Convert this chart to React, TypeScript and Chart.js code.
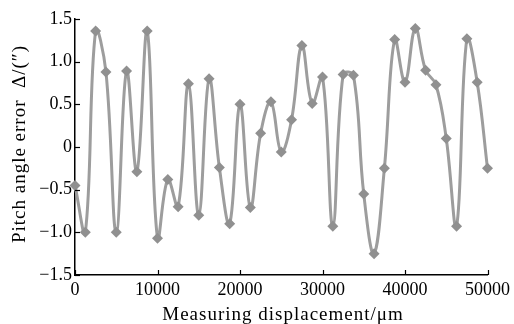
import React, { useEffect, useRef } from "react";
import { Chart, registerables } from "chart.js";

Chart.register(...registerables);

const displacement = [
  0, 1250, 2500, 3750, 5000, 6250, 7500, 8750, 10000, 11250,
  12500, 13750, 15000, 16250, 17500, 18750, 20000, 21250, 22500, 23750,
  25000, 26250, 27500, 28750, 30000, 31250, 32500, 33750, 35000, 36250,
  37500, 38750, 40000, 41250, 42500, 43750, 45000, 46250, 47500, 48750, 50000,
];
const pitchError = [
  -0.45, -1.0, 1.36, 0.88, -1.0, 0.89, -0.29, 1.36, -1.07, -0.38,
  -0.7, 0.74, -0.8, 0.8, -0.24, -0.9, 0.5, -0.71, 0.16, 0.53,
  -0.06, 0.32, 1.19, 0.51, 0.82, -0.93, 0.85, 0.84, -0.55, -1.25,
  -0.25, 1.26, 0.76, 1.39, 0.9, 0.73, 0.1, -0.93, 1.27, 0.76, -0.25,
];
const yTicks = [-1.5, -1.0, -0.5, 0, 0.5, 1.0, 1.5];
const xTicks = [0, 10000, 20000, 30000, 40000, 50000];
const xTitle = "Measuring displacement/μm";
const yTitle = "Pitch angle error  \u0394/(\u2033)";

const FONT = "'Liberation Serif', 'Times New Roman', serif";

const axisDecor = {
  id: "axisDecor",
  afterDraw(chart: any) {
    const { ctx, chartArea, scales } = chart;
    ctx.save();
    ctx.strokeStyle = "#000";
    ctx.lineWidth = 1.2;
    const len = 5;
    for (const v of xTicks) {
      const px = Math.round(scales.x.getPixelForValue(v)) + 0.5;
      ctx.beginPath();
      ctx.moveTo(px, chartArea.bottom);
      ctx.lineTo(px, chartArea.bottom - len);
      ctx.stroke();
    }
    for (const v of yTicks) {
      const py = Math.round(scales.y.getPixelForValue(v)) + 0.5;
      ctx.beginPath();
      ctx.moveTo(chartArea.left, py);
      ctx.lineTo(chartArea.left + len, py);
      ctx.stroke();
    }
    // axis titles
    ctx.fillStyle = "#000";
    ctx.font = `19px ${FONT}`;
    try {
      (ctx as any).letterSpacing = "1px";
    } catch (e) {}
    ctx.textAlign = "center";
    ctx.textBaseline = "alphabetic";
    ctx.fillText(xTitle, 283, 320);
    ctx.translate(25, 144);
    ctx.rotate(-Math.PI / 2);
    ctx.fillText(yTitle, 0, 0);
    ctx.restore();
  },
};

export default function App() {
  const ref = useRef<HTMLCanvasElement | null>(null);
  useEffect(() => {
    document.body.style.margin = "0";
    const canvas = ref.current;
    if (!canvas) return;
    const chart = new Chart(canvas, {
      type: "line",
      data: {
        datasets: [
          {
            data: displacement.map((x, i) => ({ x, y: pitchError[i] })),
            borderColor: "#9d9d9d",
            borderWidth: 3,
            backgroundColor: "#909090",
            pointBackgroundColor: "#909090",
            pointBorderColor: "#909090",
            pointStyle: "rectRot",
            pointRadius: 5.5,
            pointBorderWidth: 0,
            tension: 0.4,
            clip: false as any,
          },
        ],
      },
      options: {
        responsive: false,
        animation: false,
        layout: { padding: { top: 19, right: 24, left: 0, bottom: 0 } },
        plugins: { legend: { display: false }, tooltip: { enabled: false } },
        scales: {
          x: {
            type: "linear",
            min: 0,
            max: 50000,
            afterFit: (s: any) => {
              s.height = 49;
            },
            afterBuildTicks: (s: any) => {
              s.ticks = xTicks.map((v) => ({ value: v }));
            },
            grid: { display: false, drawTicks: false },
            border: { display: true, color: "#000", width: 1.5 },
            ticks: {
              color: "#000",
              padding: 4,
              maxRotation: 0,
              autoSkip: false,
              font: { family: FONT, size: 18 },
              callback: (v: any) => String(v),
            },
            title: { display: false },
          },
          y: {
            type: "linear",
            min: -1.5,
            max: 1.5,
            afterFit: (s: any) => {
              s.width = 75;
            },
            afterBuildTicks: (s: any) => {
              s.ticks = yTicks.map((v) => ({ value: v }));
            },
            grid: { display: false, drawTicks: false },
            border: { display: true, color: "#000", width: 1.5 },
            ticks: {
              color: "#000",
              padding: 3,
              autoSkip: false,
              font: { family: FONT, size: 18 },
              callback: (v: any) =>
                v === 0 ? "0" : (v < 0 ? "\u2212" : "") + Math.abs(v).toFixed(1),
            },
            title: { display: false },
          },
        },
      },
      plugins: [axisDecor],
    });
    return () => chart.destroy();
  }, []);
  return (
    <div style={{ width: 514, height: 324, background: "#fff" }}>
      <canvas ref={ref} width={514} height={324} />
    </div>
  );
}
